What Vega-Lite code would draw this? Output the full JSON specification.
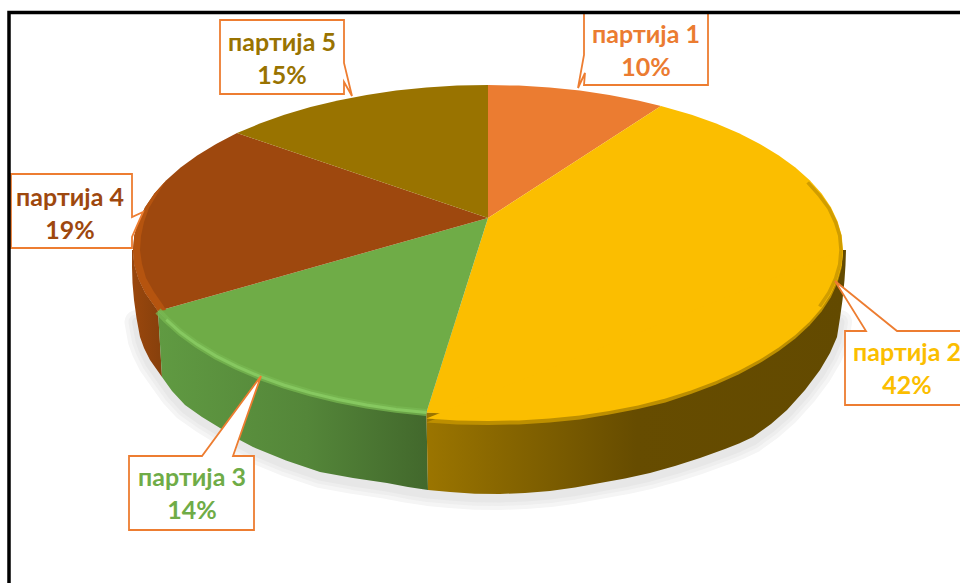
{
"$schema":"https://vega.github.io/schema/vega-lite/v6.json",
"width":960,"height":583,
"autosize":{"type":"fit","contains":"padding"},
"padding":0,
"background":"white",
"view":{"stroke":null},
"projection":{"type":"identity","scale":1,"translate":[488,250]},
"datasets":{
"slices":[
{"party":"партија 1","share":0.10,"lon":158,"lat":-215,"geo":{"type":"Polygon","coordinates":[[[0,-32],[0,-165],[30.9,-164.4],[61.6,-162.5],[91.9,-159.4],[121.4,-155],[150,-149.5],[173,-144],[0,-32]]]}},
{"party":"партија 2","share":0.42,"lon":419,"lat":103,"geo":{"type":"Polygon","coordinates":[[[0,-32],[173,-144],[203.6,-135.2],[228.2,-126.4],[251,-116.7],[271.9,-106.1],[290.8,-94.6],[307.4,-82.5],[321.7,-69.7],[333.6,-56.4],[342.9,-42.7],[349.6,-28.6],[353.7,-14.4],[355,0],[353.7,14.4],[349.6,28.6],[342.9,42.7],[333.6,56.4],[321.7,69.7],[307.4,82.5],[290.8,94.6],[271.9,106.1],[251,116.7],[228.2,126.4],[203.6,135.2],[177.5,142.9],[150,149.5],[121.4,155],[91.9,159.4],[61.6,162.5],[30.9,164.4],[0,165],[-30.9,164.4],[-61.6,162.5],[0,-32]]]}},
{"party":"партија 3","share":0.14,"lon":-296,"lat":228,"geo":{"type":"Polygon","coordinates":[[[0,-32],[-61.6,162.5],[-91.9,159.4],[-121.4,155],[-150,149.5],[-177.5,142.9],[-203.6,135.2],[-228.2,126.4],[-251,116.7],[-271.9,106.1],[-290.8,94.6],[-307.4,82.5],[-321.7,69.7],[-330,61],[0,-32]]]}},
{"party":"партија 4","share":0.19,"lon":-418,"lat":-52,"geo":{"type":"Polygon","coordinates":[[[0,-32],[-330,61],[-342.9,42.7],[-349.6,28.6],[-353.7,14.4],[-355,0],[-353.7,-14.4],[-349.6,-28.6],[-342.9,-42.7],[-333.6,-56.4],[-321.7,-69.7],[-307.4,-82.5],[-290.8,-94.6],[-271.9,-106.1],[-251,-117],[0,-32]]]}},
{"party":"партија 5","share":0.15,"lon":-206,"lat":-207,"geo":{"type":"Polygon","coordinates":[[[0,-32],[-251,-117],[-228.2,-126.4],[-203.6,-135.2],[-177.5,-142.9],[-150,-149.5],[-121.4,-155],[-91.9,-159.4],[-61.6,-162.5],[-30.9,-164.4],[0,-165],[0,-32]]]}}
],
"shadow":[{"geo":{"type":"Polygon","coordinates":[[[352,72],[349,91],[342,107],[332,124],[317,144],[299,164],[283,178],[265,191],[251,197.5],[237,203],[212,212],[187,220],[162,227],[137,232.5],[112,237],[87,241.5],[62,245],[37,247],[12,248],[-13,247.8],[-38,246],[-60,244],[-80,241],[-101,237],[-135,232],[-168,226],[-202,214.5],[-235,201],[-252,192],[-268,182],[-286,171],[-303,159],[-316,145],[-326,131],[-338,114],[-344,102],[-348,91],[-351.5,72],[352,72]]]}}],
"callouts":[
{"geo":{"type":"Polygon","coordinates":[[[96,-237],[220,-237],[220,-165],[96,-165],[97,-177],[90,-162],[96,-195],[96,-237]]]}},
{"geo":{"type":"Polygon","coordinates":[[[357,81],[378,81],[347,31],[409,81],[477,81],[477,155],[357,155],[357,81]]]}},
{"geo":{"type":"Polygon","coordinates":[[[-359,206],[-286,206],[-227,126],[-255,206],[-234,206],[-234,280],[-359,280],[-359,206]]]}},
{"geo":{"type":"Polygon","coordinates":[[[-477,-76],[-356,-76],[-356,-33],[-345,-38],[-356,-13],[-356,-2],[-477,-2],[-477,-76]]]}},
{"geo":{"type":"Polygon","coordinates":[[[-268,-230],[-144,-230],[-144,-187],[-136,-154],[-144,-168],[-144,-156],[-268,-156],[-268,-230]]]}}
]
},
"layer":[
{"data":{"name":"shadow"},"mark":{"type":"geoshape","fill":"#f5f5f5","stroke":"#f5f5f5","strokeWidth":24,"strokeJoin":"round"},"encoding":{"shape":{"field":"geo","type":"geojson"}}},
{"data":{"name":"shadow"},"mark":{"type":"geoshape","fill":"#eeeeee","stroke":"#eeeeee","strokeWidth":16,"strokeJoin":"round"},"encoding":{"shape":{"field":"geo","type":"geojson"}}},
{"data":{"name":"shadow"},"mark":{"type":"geoshape","fill":"#e7e7e7","stroke":"#e7e7e7","strokeWidth":9,"strokeJoin":"round"},"encoding":{"shape":{"field":"geo","type":"geojson"}}},
{"data":{"values":[{"geo":{"type":"Polygon","coordinates":[[[-330,61],[-342.9,42.7],[-349.6,28.6],[-353.7,14.4],[-355,0],[-356,0],[-356,17],[-355.5,33],[-354,50],[-351.5,68],[-348,87],[-344,98],[-338,110],[-326,127],[-330,61]]]}}]},
 "mark":{"type":"geoshape","fill":{"gradient":"linear","x1":0,"y1":0,"x2":1,"y2":0,"stops":[{"offset":0,"color":"#9a470d"},{"offset":1,"color":"#86400c"}]}},"encoding":{"shape":{"field":"geo","type":"geojson"}}},
{"data":{"values":[{"geo":{"type":"Polygon","coordinates":[[[-61.6,162.5],[-121.4,155],[-177.5,142.9],[-228.2,126.4],[-271.9,106.1],[-307.4,82.5],[-330,61],[-326,127],[-316,141],[-303,155],[-286,167],[-268,178],[-252,188],[-235,197],[-202,210.5],[-168,222],[-135,228],[-101,233],[-80,237],[-60,240],[-61.6,162.5]]]}}]},
 "mark":{"type":"geoshape","fill":{"gradient":"linear","x1":0,"y1":0,"x2":1,"y2":0,"stops":[{"offset":0,"color":"#609a42"},{"offset":0.55,"color":"#548639"},{"offset":1,"color":"#42682c"}]}},"encoding":{"shape":{"field":"geo","type":"geojson"}}},
{"data":{"values":[{"geo":{"type":"Polygon","coordinates":[[[355,0],[333.6,56.4],[271.9,106.1],[177.5,142.9],[61.6,162.5],[-61.6,162.5],[-60,240],[-38,242],[-13,243.8],[12,244],[37,243],[62,241],[87,237.5],[112,233],[137,228.5],[162,223],[187,216],[212,208],[237,199],[251,193.5],[265,187],[283,174],[299,160],[317,140],[332,120],[342,103],[349,87],[352,68],[354.5,50],[356.5,30],[357.5,15],[358,0],[355,0]]]}}]},
 "mark":{"type":"geoshape","fill":{"gradient":"linear","x1":0,"y1":0,"x2":1,"y2":0,"stops":[{"offset":0,"color":"#9b7500"},{"offset":0.5,"color":"#664c00"},{"offset":1,"color":"#634a00"}]}},"encoding":{"shape":{"field":"geo","type":"geojson"}}},
{"data":{"values":[{"geo":{"type":"Polygon","coordinates":[[[355,3],[353.7,17.4],[349.6,32.6],[342.9,47.2],[333.6,61.4],[321.7,75.2],[307.4,88.5],[290.8,101.1],[271.9,113.1],[251,124.2],[228.2,134.4],[203.6,143.7],[177.5,152.4],[150,159],[121.4,164.5],[91.9,169.4],[61.6,172.5],[30.9,174.4],[0,175],[-30.9,174.4],[-61.6,172.5],[355,3]]]}}]},"mark":{"type":"geoshape","fill":"#bd8f00"},"encoding":{"shape":{"field":"geo","type":"geojson"}}},
{"data":{"name":"slices"},"mark":{"type":"geoshape"},"encoding":{"shape":{"field":"geo","type":"geojson"},"color":{"field":"party","type":"nominal","legend":null,"scale":{"domain":["партија 1","партија 2","партија 3","партија 4","партија 5"],"range":["#EB7C31","#FBBE00","#6FAC47","#9E480E","#997300"]}}}},
{"data":{"values":[{"geo":{"type":"Polygon","coordinates":[[[355,0],[353.7,14.4],[349.6,29.1],[342.9,43.7],[333.6,57.9],[321.7,71.7],[307.4,85],[290.8,97.6],[271.9,109.6],[251,120.7],[228.2,130.9],[203.6,140.2],[177.5,148.4],[150,155.5],[121.4,161],[91.9,165.4],[61.6,168.5],[30.9,170.4],[0,171],[-30.9,170.4],[-61.6,168.5],[355,0]]]}}]},"mark":{"type":"geoshape","fill":"#FBBE00"},"encoding":{"shape":{"field":"geo","type":"geojson"}}},
{"data":{"values":[{"geo":{"type":"LineString","coordinates":[[319.7,-67.7],[331.6,-54.4],[340.9,-41.7],[347.6,-27.6],[351.7,-14.4],[353,0],[351.7,14.4],[347.6,28.6],[340.9,42.7],[331.6,56.4]]}}]},"mark":{"type":"geoshape","filled":false,"stroke":"#bd8f00","strokeWidth":3.5,"strokeOpacity":0.7},"encoding":{"shape":{"field":"geo","type":"geojson"}}},
{"data":{"values":[{"geo":{"type":"Polygon","coordinates":[[[-330,61],[-342.9,42.7],[-349.6,28.6],[-353.7,14.4],[-355,0],[-353.7,-14.4],[-349.6,-28.6],[-342.9,-42.7],[-333.6,-56.4],[-321.7,-69.7],[-331,-55.5],[-339,-42],[-344,-28],[-347,-14],[-348,0],[-346,14],[-342,28],[-334,42],[-325,55],[-322,60],[-330,61]]]}}]},"mark":{"type":"geoshape","fill":"#b5540f"},"encoding":{"shape":{"field":"geo","type":"geojson"}}},
{"data":{"values":[{"geo":{"type":"LineString","coordinates":[[-330,61],[-321.7,69.7],[-307.4,82.5],[-290.8,94.6],[-271.9,106.1],[-251,116.7],[-228.2,126.4],[-203.6,135.2],[-177.5,142.9],[-150,149.5],[-121.4,155],[-91.9,159.4],[-61.6,162.5]]}}]},"mark":{"type":"geoshape","filled":false,"stroke":"#78b851","strokeWidth":7,"strokeOpacity":0.75},"encoding":{"shape":{"field":"geo","type":"geojson"}}},
{"data":{"values":[{"geo":{"type":"LineString","coordinates":[[-321.7,69.7],[-307.4,82.5],[-290.8,94.6],[-271.9,106.1],[-251,116.7],[-228.2,126.4],[-203.6,135.2],[-177.5,142.9],[-150,149.5],[-121.4,155],[-91.9,159.4],[-61.6,162.5]]}}]},"mark":{"type":"geoshape","filled":false,"stroke":"#86c860","strokeWidth":3},"encoding":{"shape":{"field":"geo","type":"geojson"}}},
{"data":{"name":"callouts"},"mark":{"type":"geoshape","fill":"white","stroke":"#ED7D31","strokeWidth":1.8,"strokeJoin":"miter"},"encoding":{"shape":{"field":"geo","type":"geojson"}}},
{"data":{"name":"slices"},"mark":{"type":"text","font":"Lato","fontWeight":"bold","fontSize":25,"baseline":"middle","align":"center"},"encoding":{"longitude":{"field":"lon","type":"quantitative"},"latitude":{"field":"lat","type":"quantitative"},"text":{"field":"party","type":"nominal"},"color":{"field":"party","type":"nominal","legend":null}}},
{"data":{"name":"slices"},"mark":{"type":"text","font":"Lato","fontWeight":"bold","fontSize":25,"baseline":"middle","align":"center","dy":33},"encoding":{"longitude":{"field":"lon","type":"quantitative"},"latitude":{"field":"lat","type":"quantitative"},"text":{"field":"share","type":"quantitative","format":".0%"},"color":{"field":"party","type":"nominal","legend":null}}},
{"data":{"values":[{"geo":{"type":"LineString","coordinates":[[-479,333],[-479,-237.5],[472,-237.5]]}}]},"mark":{"type":"geoshape","filled":false,"stroke":"black","strokeWidth":3.5,"strokeJoin":"miter"},"encoding":{"shape":{"field":"geo","type":"geojson"}}}
]
}
